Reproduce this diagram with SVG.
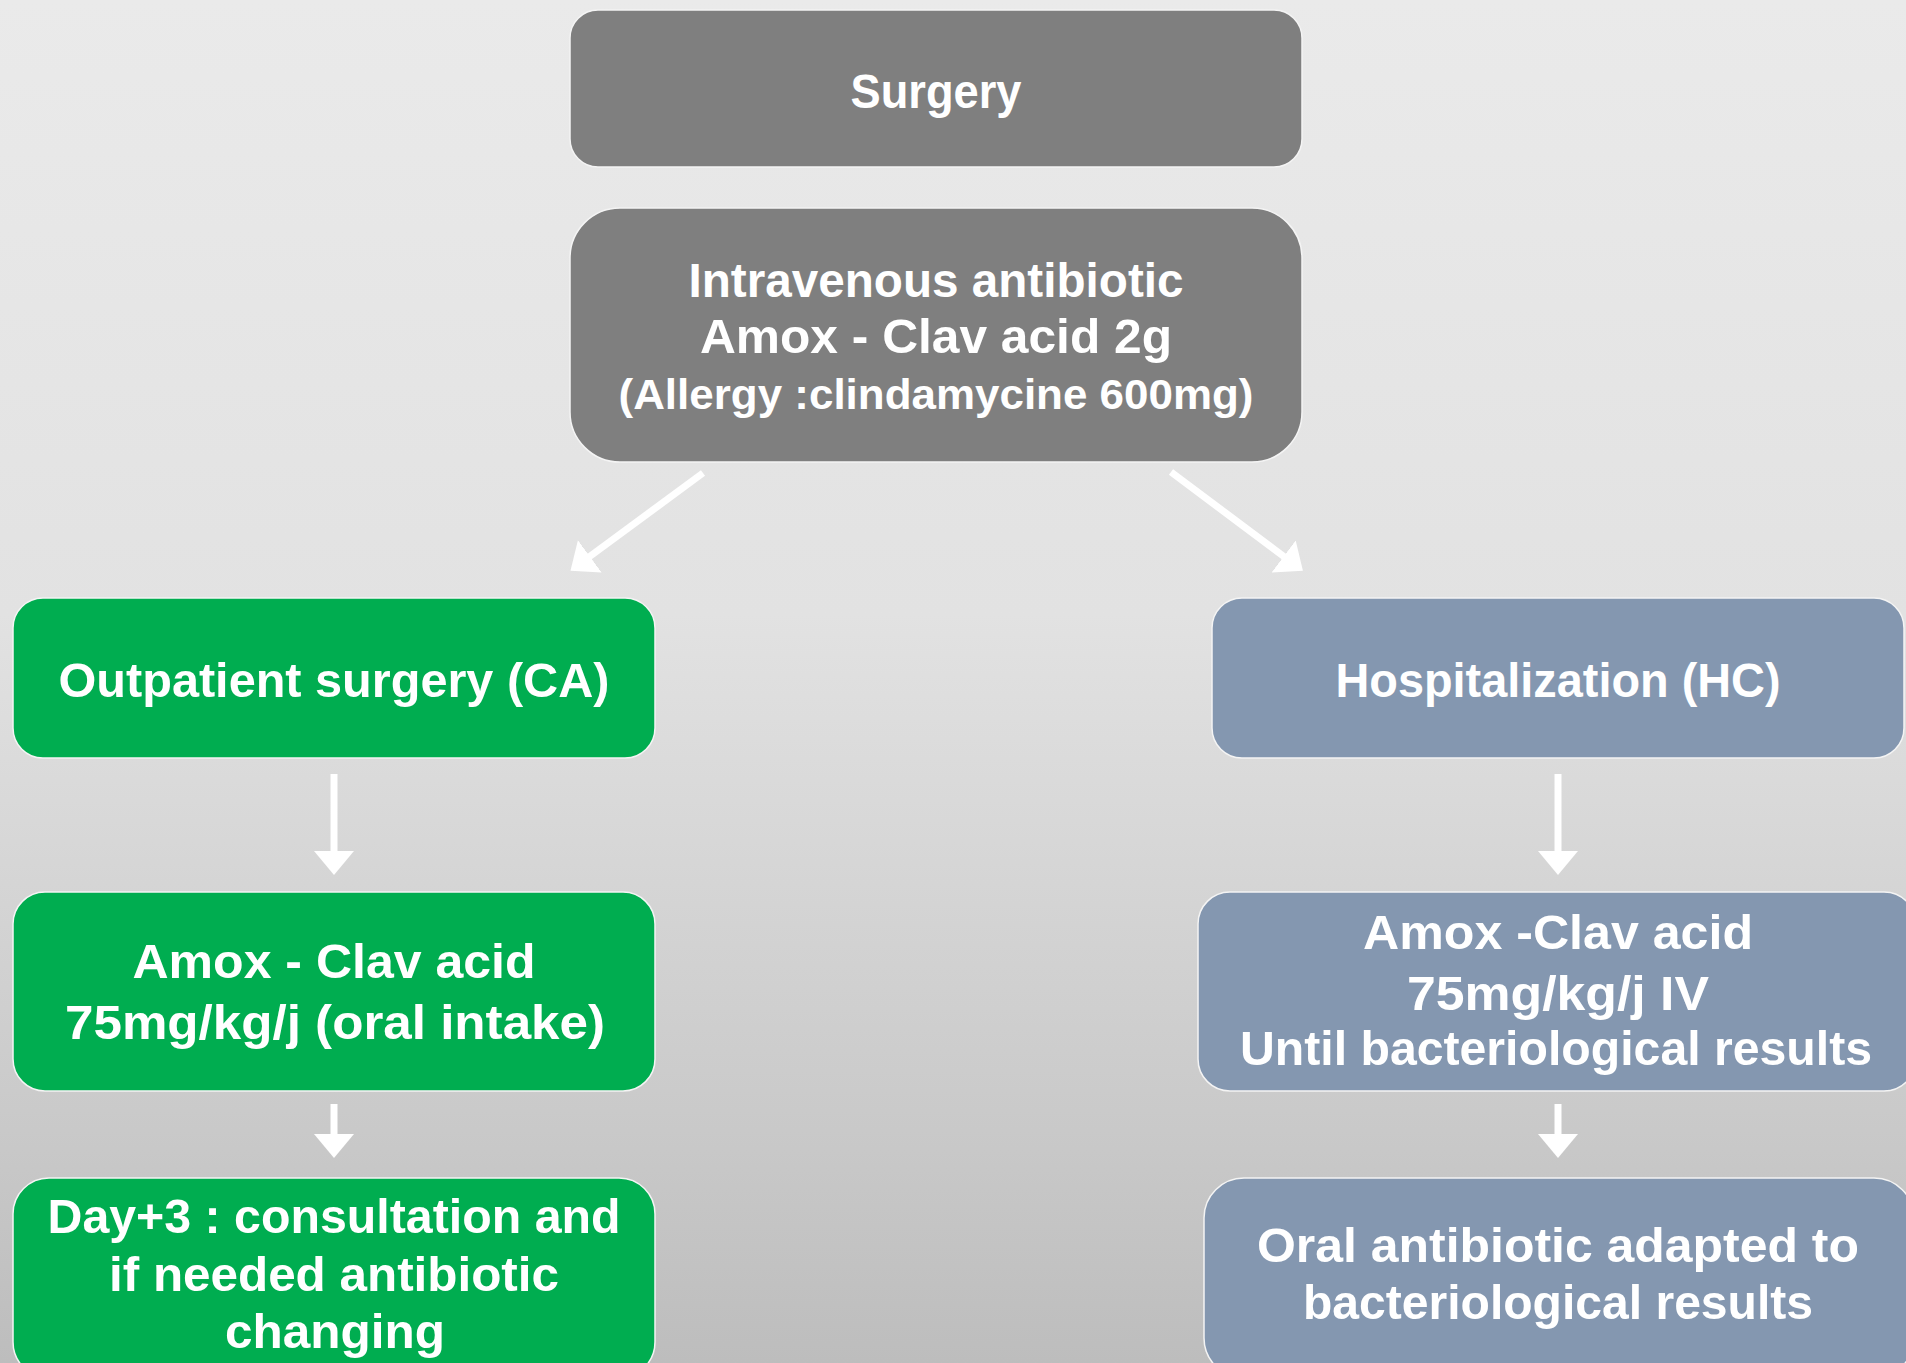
<svg xmlns="http://www.w3.org/2000/svg" width="1906" height="1363" viewBox="0 0 1906 1363">
  <defs>
    <linearGradient id="bg" x1="0" y1="0" x2="0" y2="1">
      <stop offset="0" stop-color="#eaeaea"/>
      <stop offset="0.45" stop-color="#e2e2e2"/>
      <stop offset="0.8" stop-color="#cbcbcb"/>
      <stop offset="1" stop-color="#bdbdbd"/>
    </linearGradient>
    <marker id="head" markerUnits="userSpaceOnUse" markerWidth="26" markerHeight="42" viewBox="0 -21 26 42" refX="1" refY="0" orient="auto">
      <path d="M0,-20 L24,0 L0,20 Z" fill="#ffffff"/>
    </marker>
  </defs>
  <style>
    .box { stroke: #f4f4f4; stroke-width: 1.5; }
    .gray { fill: #7f7f7f; }
    .green { fill: #00ad50; }
    .blue { fill: #8497b0; }
    .t { fill: #ffffff; font-family: "Liberation Sans", Arial, sans-serif; font-weight: bold; font-size: 48px; text-anchor: middle; }
    .s { font-size: 42px; }
    .conn { stroke: #ffffff; stroke-width: 7; fill: none; marker-end: url(#head); }
  </style>
  <rect x="0" y="0" width="1906" height="1363" fill="url(#bg)"/>

  <g id="connectors">
    <line class="conn" x1="703" y1="473" x2="589" y2="557"/>
    <line class="conn" x1="1171" y1="472" x2="1284.5" y2="557"/>
    <line class="conn" x1="334" y1="774" x2="334" y2="852"/>
    <line class="conn" x1="1558" y1="774" x2="1558" y2="852"/>
    <line class="conn" x1="334" y1="1104" x2="334" y2="1135"/>
    <line class="conn" x1="1558" y1="1104" x2="1558" y2="1135"/>
  </g>

  <g id="surgery">
    <rect class="box gray" x="570" y="10" width="732" height="157" rx="28"/>
    <text class="t" x="936" y="108" textLength="171" lengthAdjust="spacingAndGlyphs">Surgery</text>
  </g>

  <g id="iv-antibiotic">
    <rect class="box gray" x="570" y="208" width="732" height="254" rx="50"/>
    <text class="t" x="936" y="297" textLength="495" lengthAdjust="spacingAndGlyphs">Intravenous antibiotic</text>
    <text class="t" x="936" y="353" textLength="472" lengthAdjust="spacingAndGlyphs">Amox - Clav acid 2g</text>
    <text class="t s" x="936" y="409" textLength="635" lengthAdjust="spacingAndGlyphs">(Allergy :clindamycine 600mg)</text>
  </g>

  <g id="outpatient">
    <rect class="box green" x="13" y="598" width="642" height="160" rx="30"/>
    <text class="t" x="334" y="697" textLength="551" lengthAdjust="spacingAndGlyphs">Outpatient surgery (CA)</text>
  </g>

  <g id="hospitalization">
    <rect class="box blue" x="1212" y="598" width="692" height="160" rx="30"/>
    <text class="t" x="1558" y="697" textLength="445" lengthAdjust="spacingAndGlyphs">Hospitalization (HC)</text>
  </g>

  <g id="oral-amox">
    <rect class="box green" x="13" y="892" width="642" height="199" rx="32"/>
    <text class="t" x="334" y="978" textLength="403" lengthAdjust="spacingAndGlyphs">Amox - Clav acid</text>
    <text class="t" x="335" y="1039" textLength="540" lengthAdjust="spacingAndGlyphs">75mg/kg/j (oral intake)</text>
  </g>

  <g id="iv-amox">
    <rect class="box blue" x="1198" y="892" width="718" height="199" rx="32"/>
    <text class="t" x="1558" y="949" textLength="390" lengthAdjust="spacingAndGlyphs">Amox -Clav acid</text>
    <text class="t" x="1558" y="1010" textLength="302" lengthAdjust="spacingAndGlyphs">75mg/kg/j IV</text>
    <text class="t" x="1556" y="1065" textLength="632" lengthAdjust="spacingAndGlyphs">Until bacteriological results</text>
  </g>

  <g id="day3">
    <rect class="box green" x="13" y="1178" width="642" height="200" rx="36"/>
    <text class="t" x="334" y="1233" textLength="573" lengthAdjust="spacingAndGlyphs">Day+3 : consultation and</text>
    <text class="t" x="334" y="1291" textLength="450" lengthAdjust="spacingAndGlyphs">if needed antibiotic</text>
    <text class="t" x="335" y="1348" textLength="220" lengthAdjust="spacingAndGlyphs">changing</text>
  </g>

  <g id="oral-adapted">
    <rect class="box blue" x="1204" y="1178" width="710" height="200" rx="40"/>
    <text class="t" x="1558" y="1262" textLength="602" lengthAdjust="spacingAndGlyphs">Oral antibiotic adapted to</text>
    <text class="t" x="1558" y="1319" textLength="510" lengthAdjust="spacingAndGlyphs">bacteriological results</text>
  </g>
</svg>
